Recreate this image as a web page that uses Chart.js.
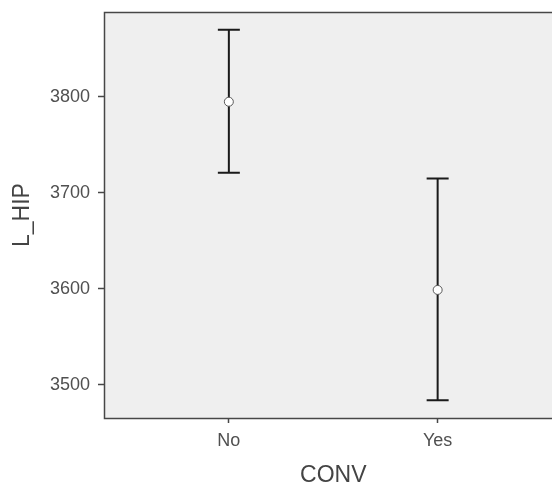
<!DOCTYPE html>
<html>
<head>
<meta charset="utf-8">
<script src="https://cdn.jsdelivr.net/npm/chart.js@4.4.0/dist/chart.umd.min.js"></script>
<style>
  html, body { margin: 0; padding: 0; background: #fff; overflow: hidden; }
  #wrap { width: 552px; height: 489px; overflow: hidden; }
</style>
</head>
<body>
<div id="wrap"><canvas id="grafico" width="568" height="489"></canvas></div>
<script>
// dados
const categories = ["No", "Yes"];
const means = [3795, 3599];
const upper = [3870, 3715];
const lower = [3721, 3484];
const yTicks = [3500, 3600, 3700, 3800];

const fontFamily = "Arial, 'Liberation Sans', sans-serif";

// fundo cinza da area do grafico + moldura
const plotBackground = {
  id: "plotBackground",
  beforeDraw(chart) {
    const { ctx, chartArea: a } = chart;
    ctx.save();
    ctx.fillStyle = "#efefef";
    ctx.fillRect(a.left, a.top, a.right - a.left, a.bottom - a.top);
    ctx.restore();
  },
  afterDraw(chart) {
    const { ctx, chartArea: a } = chart;
    ctx.save();
    ctx.strokeStyle = "#474747";
    ctx.lineWidth = 1.5;
    ctx.strokeRect(a.left + 0.5, a.top + 0.5, a.right - a.left, a.bottom - a.top);
    ctx.restore();
  },
};

// barras de erro desenhadas pelas escalas
const errorBars = {
  id: "errorBars",
  beforeDatasetsDraw(chart) {
    const { ctx, scales } = chart;
    ctx.save();
    ctx.strokeStyle = "#1a1a1a";
    ctx.lineWidth = 2;
    categories.forEach((c, i) => {
      const x = scales.x.getPixelForValue(i);
      const yTop = scales.y.getPixelForValue(upper[i]);
      const yBot = scales.y.getPixelForValue(lower[i]);
      const cap = 11;
      ctx.beginPath();
      ctx.moveTo(x, yTop);
      ctx.lineTo(x, yBot);
      ctx.moveTo(x - cap, yTop);
      ctx.lineTo(x + cap, yTop);
      ctx.moveTo(x - cap, yBot);
      ctx.lineTo(x + cap, yBot);
      ctx.stroke();
    });
    ctx.restore();
  },
};

new Chart(document.getElementById("grafico"), {
  type: "scatter",
  data: {
    datasets: [
      {
        data: means.map((m, i) => ({ x: i, y: m })),
        pointRadius: 4.5,
        pointBackgroundColor: "#ffffff",
        pointBorderColor: "#5a5a5a",
        pointBorderWidth: 1,
      },
    ],
  },
  options: {
    responsive: false,
    animation: false,
    devicePixelRatio: 1,
    layout: { padding: { top: 12, right: 5, bottom: 0, left: 0 } },
    plugins: { legend: { display: false }, tooltip: { enabled: false } },
    scales: {
      x: {
        type: "linear",
        min: -0.598,
        max: 1.598,
        afterFit(scale) {
          scale.height = 71;
          scale.paddingLeft = 0;
          scale.paddingRight = 0;
        },
        afterBuildTicks(scale) { scale.ticks = categories.map((c, i) => ({ value: i })); },
        border: { display: false },
        grid: { drawOnChartArea: false, drawTicks: true, tickLength: 5, tickColor: "#474747", tickWidth: 1.5 },
        ticks: {
          padding: 7,
          color: "#505050",
          font: { family: fontFamily, size: 18 },
          callback: (v) => categories[v],
        },
        title: {
          display: true,
          text: "CONV",
          color: "#444",
          font: { family: fontFamily, size: 23 },
          padding: { top: 0, bottom: 0 },
        },
      },
      y: {
        min: 3465.6,
        max: 3888.5,
        afterFit(scale) {
          scale.width = 104;
          scale.paddingTop = 0;
          scale.paddingBottom = 0;
        },
        afterBuildTicks(scale) { scale.ticks = yTicks.map((v) => ({ value: v })); },
        border: { display: false },
        grid: { drawOnChartArea: false, drawTicks: true, tickLength: 6, tickColor: "#474747", tickWidth: 1.5 },
        ticks: {
          padding: 8,
          color: "#505050",
          font: { family: fontFamily, size: 18 },
          callback: (v) => String(v),
        },
        title: {
          display: true,
          text: "L_HIP",
          color: "#444",
          font: { family: fontFamily, size: 23 },
          padding: { top: 9, bottom: 0 },
        },
      },
    },
  },
  plugins: [plotBackground, errorBars],
});
</script>
</body>
</html>
